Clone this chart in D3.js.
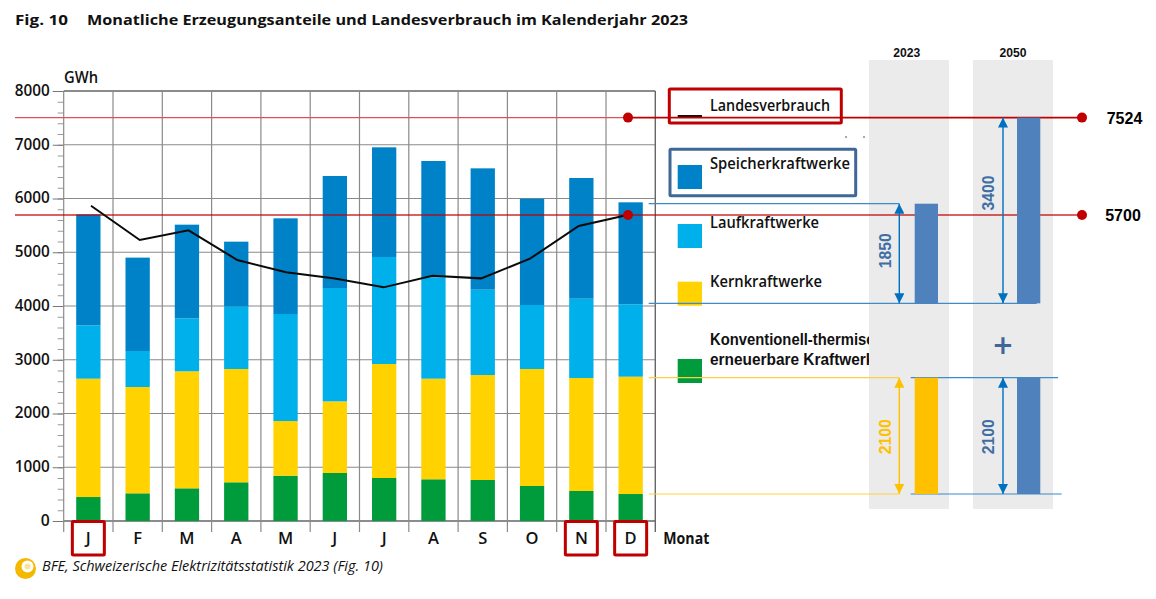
<!DOCTYPE html>
<html><head><meta charset="utf-8">
<script src="https://cdn.jsdelivr.net/npm/d3@7"></script>
<style>
html,body{margin:0;padding:0;background:#fff}
svg{display:block}
text{font-family:"Open Sans",sans-serif;fill:#111}
</style></head><body><svg id="c" width="1156" height="599"></svg>
<script>
const months=["J","F","M","A","M","J","J","A","S","O","N","D"];
const thermal=[446,515,608,720,843,893,800,776,763,651,558,502];
const nuclear=[2202,1978,2177,2108,1017,1333,2121,1872,1953,2177,2102,2183];
const runOfRiver=[992,670,985,1160,1991,2109,1991,1885,1588,1191,1476,1346];
const storage=[2065,1737,1743,1209,1780,2084,2040,2165,2257,1978,2245,1898];
const consumption=[5866,5228,5408,4856,4627,4512,4347,4563,4514,4880,5488,5693];
const seriesColors=["#009b3a","#ffd200","#00b0ea","#0082c8"];
const refLines=[7505,5693];
const refLabels=["7524","5700"];
const highlighted=[0,10,11];
const plan2023=[{base:4050,top:5903,color:"#4f81bd"},{base:502,top:2666,color:"#ffc000"}];
const plan2050=[{base:4050,top:7505,color:"#4f81bd"},{base:502,top:2666,color:"#4f81bd"}];

const svg=d3.select("#c");
const y=d3.scaleLinear().domain([0,8000]).range([521,91]);
const x=d3.scaleBand().domain(d3.range(12)).range([63.7,655.3]);
const barW=24.3;
const lineX=d3.scalePoint().domain(d3.range(12)).range([91,627.5]);

const T=(s,px,py,o={})=>{const t=svg.append("text").attr("x",px).attr("y",py).attr("dy","0.35em")
  .attr("font-size",o.size||14).attr("font-weight",o.weight||700).attr("text-anchor",o.anchor||"start").text(s);
  if(o.len){t.attr("textLength",o.len).attr("lengthAdjust","spacingAndGlyphs");}
  if(o.color)t.style("fill",o.color);
  if(o.italic)t.attr("font-style","italic");
  if(o.family)t.style("font-family",o.family);
  if(o.rot)t.attr("transform",`rotate(-90 ${px} ${py})`);
  return t;};

// title
T("Fig. 10",15,20,{size:15,len:53});
T("Monatliche Erzeugungsanteile und Landesverbrauch im Kalenderjahr 2023",87,20,{size:15,len:601});

// legend
const lg=svg.append("g");
const legendTop=[165,224,281.7,359];
[3,2,1,0].forEach((s,i)=>lg.append("rect").attr("x",677.7).attr("y",legendTop[i]).attr("width",24.3).attr("height",24).attr("fill",seriesColors[s]));
lg.append("rect").attr("x",677.7).attr("y",115).attr("width",24.3).attr("height",2).attr("fill","#111");
T("Landesverbrauch",710,105.2,{size:16,weight:600,len:120});
T("Speicherkraftwerke",710,163.5,{size:16,weight:600,len:140});
T("Laufkraftwerke",710,222.5,{size:16,weight:600,len:109});
T("Kernkraftwerke",710,281.2,{size:16,weight:600,len:112});
T("Konventionell-thermische und",710,339.5,{size:16,family:"Liberation Sans",len:213});
T("erneuerbare Kraftwerke",710,359,{size:16,family:"Liberation Sans",len:173});
[845,863].forEach(px=>svg.append("line").attr("x1",px).attr("x2",px+2).attr("y1",137).attr("y2",137).attr("stroke","#555"));

// grey panels
const panels=[{x:869,w:80,label:"2023",cx:906.7},{x:973,w:80,label:"2050",cx:1013}];
panels.forEach(p=>{svg.append("rect").attr("x",p.x).attr("y",60).attr("width",p.w).attr("height",449).attr("fill","#ebebeb");
  T(p.label,p.cx,52.5,{size:12.5,family:"Liberation Sans",anchor:"middle",len:27});});

// axes
svg.append("g").attr("transform","translate(63.7,0)")
  .call(d3.axisLeft(y).tickValues(d3.range(0,8001,200)).tickSize(6).tickFormat(""))
  .call(g=>{g.select(".domain").remove();g.selectAll("line").attr("stroke","#999");});
svg.append("g").attr("transform","translate(63.7,0)")
  .call(d3.axisLeft(y).tickValues(d3.range(0,8001,1000)).tickSize(11).tickPadding(3).tickFormat(d3.format("d")))
  .call(g=>{g.select(".domain").remove();g.selectAll("line").attr("stroke","#777");
   g.selectAll("text").attr("font-size",16.5).attr("font-weight",600).attr("dy","0.26em")
    .attr("textLength",d=>d==0?9:35).attr("lengthAdjust","spacingAndGlyphs")
    .style("font-family",'"Open Sans",sans-serif').style("fill","#111");});
svg.append("g").selectAll("line").data(d3.range(0,8001,1000)).join("line")
 .attr("x1",63.7).attr("x2",655.3).attr("y1",d=>y(d)).attr("y2",d=>y(d))
 .attr("stroke",d=>(d==0||d==8000)?"#666":"#8a8a8a").attr("stroke-width",d=>(d==0||d==8000)?1.4:1.2);
svg.append("g").selectAll("line").data(d3.range(13)).join("line")
 .attr("x1",d=>63.7+d*x.bandwidth()).attr("x2",d=>63.7+d*x.bandwidth())
 .attr("y1",91).attr("y2",532)
 .attr("stroke",d=>d==12?"#666":"#8a8a8a").attr("stroke-width",d=>d==12?1.4:1.2);

// stacked bars
const table=months.map((m,i)=>({i,a:thermal[i],b:nuclear[i],c:runOfRiver[i],d:storage[i]}));
const stack=d3.stack().keys(["a","b","c","d"])(table);
svg.append("g").selectAll("g").data(stack).join("g").attr("fill",(d,i)=>seriesColors[i])
 .selectAll("rect").data(d=>d).join("rect")
 .attr("x",d=>x(d.data.i)+x.bandwidth()/2-barW/2).attr("width",barW)
 .attr("y",d=>y(d[1])).attr("height",d=>y(d[0])-y(d[1]));

// connector lines
const conn=[[648.7,899.3,5903,"#3d8cc8"],[648.7,1036.7,4050,"#3d8cc8"],[648.7,899.3,2666,"#ffcf40"],[648.7,899.3,502,"#ffcf40"],[910.7,1058,2666,"#3d8cc8"],[910.7,1061.7,502,"#3d8cc8"]];
svg.append("g").selectAll("line").data(conn).join("line")
 .attr("x1",d=>d[0]).attr("x2",d=>d[1]).attr("y1",d=>y(d[2])).attr("y2",d=>y(d[2]))
 .attr("stroke",d=>d[3]).attr("stroke-width",1.2);

// red reference lines
svg.append("line").attr("x1",15).attr("x2",628).attr("y1",y(refLines[0])).attr("y2",y(refLines[0])).attr("stroke","#d9535a").attr("stroke-width",1.2);
svg.append("line").attr("x1",628).attr("x2",1082).attr("y1",y(refLines[0])).attr("y2",y(refLines[0])).attr("stroke","#c00000").attr("stroke-width",1.6);
svg.append("line").attr("x1",15).attr("x2",1082).attr("y1",y(refLines[1])).attr("y2",y(refLines[1])).attr("stroke","#c00000").attr("stroke-opacity",.62).attr("stroke-width",2);

// consumption line
svg.append("path").datum(consumption).attr("fill","none").attr("stroke","#0a0a0a").attr("stroke-width",2)
 .attr("d",d3.line().x((d,i)=>lineX(i)).y(d=>y(d)));

// reference dots and labels
const labelX=[1124.5,1123];
refLines.forEach((v,i)=>{
 [628,1082].forEach(cx=>svg.append("circle").attr("cx",cx).attr("cy",y(v)).attr("r",5).attr("fill","#c00000"));
 T(refLabels[i],labelX[i],y(v)+0.5,{size:16,family:"Liberation Sans",anchor:"middle",color:"#000"});
});

// plan bars
const planX=[914.7,1017];
[plan2023,plan2050].forEach((arr,k)=>svg.append("g").selectAll("rect").data(arr).join("rect")
 .attr("x",planX[k]).attr("width",23.3).attr("y",d=>y(d.top)).attr("height",d=>y(d.base)-y(d.top)).attr("fill",d=>d.color));

// arrows
const defs=svg.append("defs");
const marker=(id,c)=>{defs.append("marker").attr("id",id).attr("viewBox","0 0 10 10").attr("refX",10).attr("refY",5)
  .attr("markerWidth",10).attr("markerHeight",10).attr("markerUnits","userSpaceOnUse").attr("orient","auto-start-reverse")
  .append("path").attr("d","M0,0L10,5L0,10Z").attr("fill",c);};
marker("ab","#0070c0");marker("ay","#ffc000");
const arrows=[[899.3,5903,4050,"ab","#0070c0"],[1003,7505,4050,"ab","#0070c0"],[899.3,2666,502,"ay","#ffc000"],[1003,2666,502,"ab","#0070c0"]];
svg.append("g").selectAll("line").data(arrows).join("line")
 .attr("x1",d=>d[0]).attr("x2",d=>d[0]).attr("y1",d=>y(d[1])).attr("y2",d=>y(d[2]))
 .attr("stroke",d=>d[4]).attr("stroke-width",1.4)
 .attr("marker-start",d=>`url(#${d[3]})`).attr("marker-end",d=>`url(#${d[3]})`);
const side=[["1850",885.7,250.7,"#3f6ea5"],["3400",988.7,193,"#3f6ea5"],["2100",885.7,436.7,"#ffc000"],["2100",988.7,436.7,"#3f6ea5"]];
side.forEach(s=>T(s[0],s[1],s[2],{size:16,family:"Liberation Sans",anchor:"middle",color:s[3],rot:true,len:35}));
T("+",1003,344.7,{size:26,family:"DejaVu Sans",anchor:"middle",color:"#3f6797"});

// month labels
months.forEach((m,i)=>T(m,x(i)+x.bandwidth()/2,538,{size:16.5,weight:600,anchor:"middle"}));
T("Monat",663.3,538,{size:16.5,weight:700,len:46});
T("GWh",64,77,{size:16,weight:600,len:34});

// highlighted boxes
svg.append("g").selectAll("rect").data(highlighted).join("rect")
 .attr("x",d=>x(d)+x.bandwidth()/2-16).attr("y",521.5).attr("width",32).attr("height",33.5).attr("rx",1)
 .attr("fill","none").attr("stroke","#c00000").attr("stroke-width",3);
svg.append("rect").attr("x",669.3).attr("y",89).attr("width",172).attr("height",34).attr("rx",1).attr("fill","none").attr("stroke","#c00000").attr("stroke-width",3);
svg.append("rect").attr("x",670).attr("y",149.3).attr("width",185.7).attr("height",46.4).attr("rx",1).attr("fill","none").attr("stroke","#3f6797").attr("stroke-width",3);

// source
svg.append("circle").attr("cx",25.5).attr("cy",568.5).attr("r",10.5).attr("fill","#f5b800");
svg.append("circle").attr("cx",27.5).attr("cy",566.5).attr("r",6).attr("fill","#fff");
svg.append("circle").attr("cx",27.5).attr("cy",566.5).attr("r",3).attr("fill","#fbe39a");
T("BFE, Schweizerische Elektrizitätsstatistik 2023 (Fig. 10)",42,566.5,{size:14,weight:400,italic:true,len:341});
</script></body></html>
